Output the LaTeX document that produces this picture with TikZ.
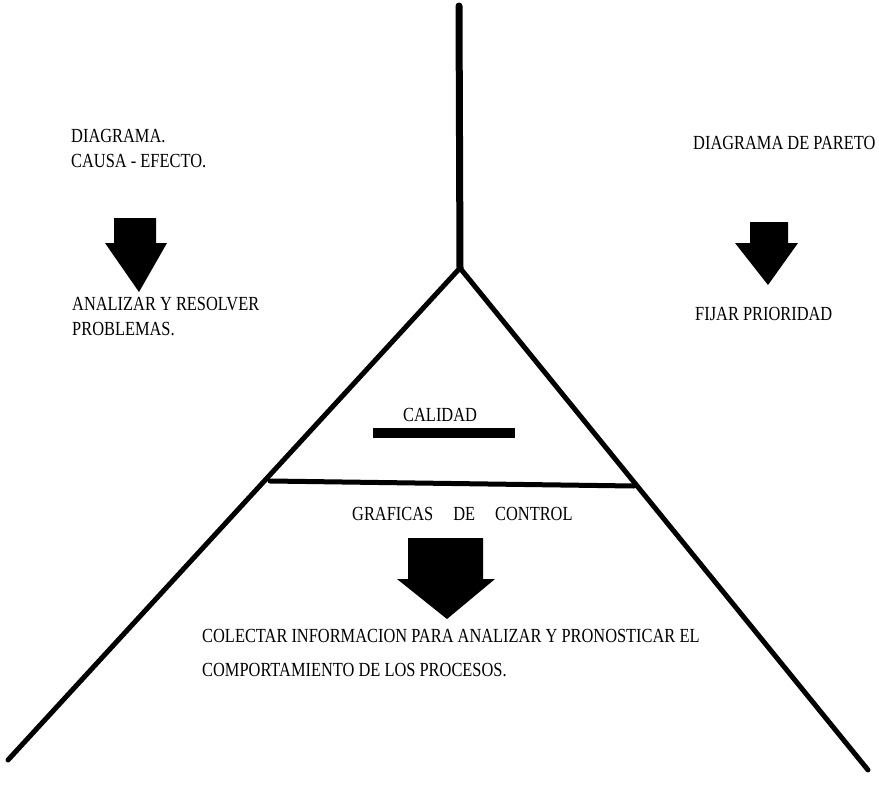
\documentclass[tikz,border=0pt]{standalone}
\usepackage{fontspec}
\setmainfont{Liberation Serif}
\newfontfamily\cond[FakeStretch=0.82]{Liberation Serif}
\begin{document}
\begin{tikzpicture}[x=1pt,y=-1pt,line join=round]
\tikzset{
  lbl/.style={anchor=base west,inner sep=0pt,font=\cond\fontsize{20}{24}\selectfont},
  edge/.style={line width=5pt,line cap=round},
  bigarrow/.style={fill=black}
}
\useasboundingbox (0,0) rectangle (879,788);
% frame lines
\coordinate (top) at (459,6);
\coordinate (apex) at (460,268);
\coordinate (bl) at (8,760);
\coordinate (br) at (868,770);
\coordinate (hl) at (270,481);
\coordinate (hr) at (634,486);
\draw[line width=7pt,line cap=round] (top) -- (apex);
\draw[edge] (bl) -- (apex) -- (br);
\draw[edge] (hl) -- (hr);
% bar under CALIDAD
\fill (373,428) rectangle (515,438);
% arrows
\fill[bigarrow] (114,218) -- (156,218) -- (156,243) -- (167,243) -- (139,292) -- (105,243) -- (114,243) -- cycle;
\fill[bigarrow] (750,222) -- (788,222) -- (788,243) -- (798,243) -- (768,285) -- (735,243) -- (750,243) -- cycle;
\fill[bigarrow] (408,538) -- (483,538) -- (483,579) -- (495,579) -- (447,619) -- (397,579) -- (408,579) -- cycle;
% texts
\node[lbl] (t1) at (71,142) {DIAGRAMA.};
\node[lbl] (t2) at (71,167) {CAUSA - EFECTO.};
\node[lbl] (t3) at (72,310) {ANALIZAR Y RESOLVER};
\node[lbl] (t4) at (72,335) {PROBLEMAS.};
\node[lbl] (t5) at (693,149) {DIAGRAMA DE PARETO};
\node[lbl] (t6) at (695,320) {FIJAR PRIORIDAD};
\node[lbl] (t7) at (403,421) {CALIDAD};
\node[lbl] (t8) at (352,520) {GRAFICAS\quad DE\quad CONTROL};
\node[lbl] (t9) at (202,642) {COLECTAR INFORMACION PARA ANALIZAR Y PRONOSTICAR EL};
\node[lbl] (t10) at (202,676) {COMPORTAMIENTO DE LOS PROCESOS.};
\end{tikzpicture}
\end{document}
